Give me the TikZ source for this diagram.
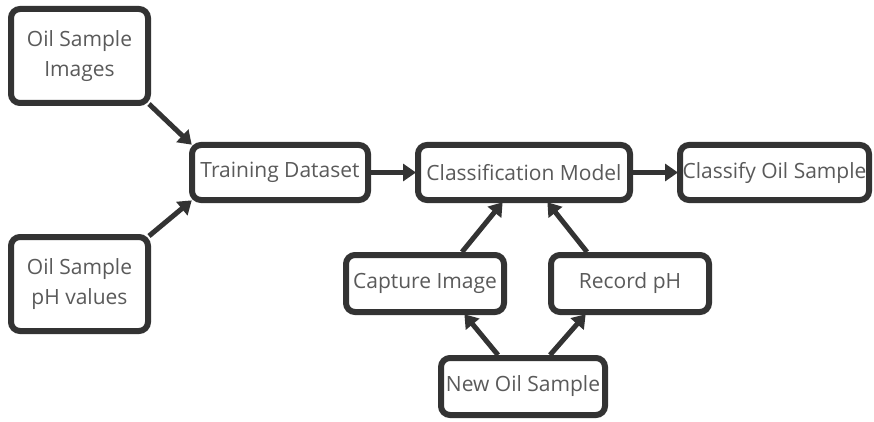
\documentclass[tikz,border=0pt]{standalone}
\usepackage{fontspec}
\setmainfont{Open Sans}
\usetikzlibrary{arrows.meta}
\definecolor{edge}{HTML}{333333}
\definecolor{txt}{HTML}{5A5A5A}
\tikzset{
  box/.style={draw=edge, line width=6pt, rounded corners=9pt, fill=white, text=txt,
    align=center, inner sep=0pt, font=\fontsize{21}{30}\selectfont},
  arr/.style={draw=edge, line width=5pt, -{Triangle[length=13pt,width=17pt]}, shorten >=-1pt}
}
\begin{document}
\begin{tikzpicture}[x=1pt,y=-1pt]
\useasboundingbox (0,0) rectangle (874,422);
\node[box, minimum width=137pt, minimum height=94pt] (imgs) at (79.5,56) {Oil Sample\\Images};
\node[box, minimum width=137pt, minimum height=94pt] (phv) at (79.5,284) {Oil Sample\\pH values};
\node[box, minimum width=176pt, minimum height=55pt] (train) at (280,172.5) {Training Dataset};
\node[box, minimum width=212pt, minimum height=55pt] (cls) at (524,172.5) {Classification Model};
\node[box, minimum width=189pt, minimum height=55pt] (out) at (774.5,172.5) {Classify Oil Sample};
\node[box, minimum width=158pt, minimum height=57pt] (cap) at (425,283.5) {Capture Image};
\node[box, minimum width=158pt, minimum height=57pt] (rec) at (630,283.5) {Record pH};
\node[box, minimum width=164pt, minimum height=57pt] (new) at (523,386.5) {New Oil Sample};
\draw[arr] ([xshift=-2pt,yshift=2pt]imgs.south east) -- ([xshift=2pt,yshift=-2pt]train.north west);
\draw[arr] ([xshift=-2pt,yshift=-2pt]phv.north east) -- ([xshift=2pt,yshift=2pt]train.south west);
\draw[arr] (train.east) -- (cls.west);
\draw[arr] (cls.east) -- (out.west);
\draw[arr] ([xshift=37pt]cap.north) -- ([xshift=-22pt]cls.south);
\draw[arr] ([xshift=-43pt]rec.north) -- ([xshift=24pt]cls.south);
\draw[arr] ([xshift=-25pt]new.north) -- ([xshift=40pt]cap.south);
\draw[arr] ([xshift=27pt]new.north) -- ([xshift=-45pt]rec.south);
\end{tikzpicture}
\end{document}
